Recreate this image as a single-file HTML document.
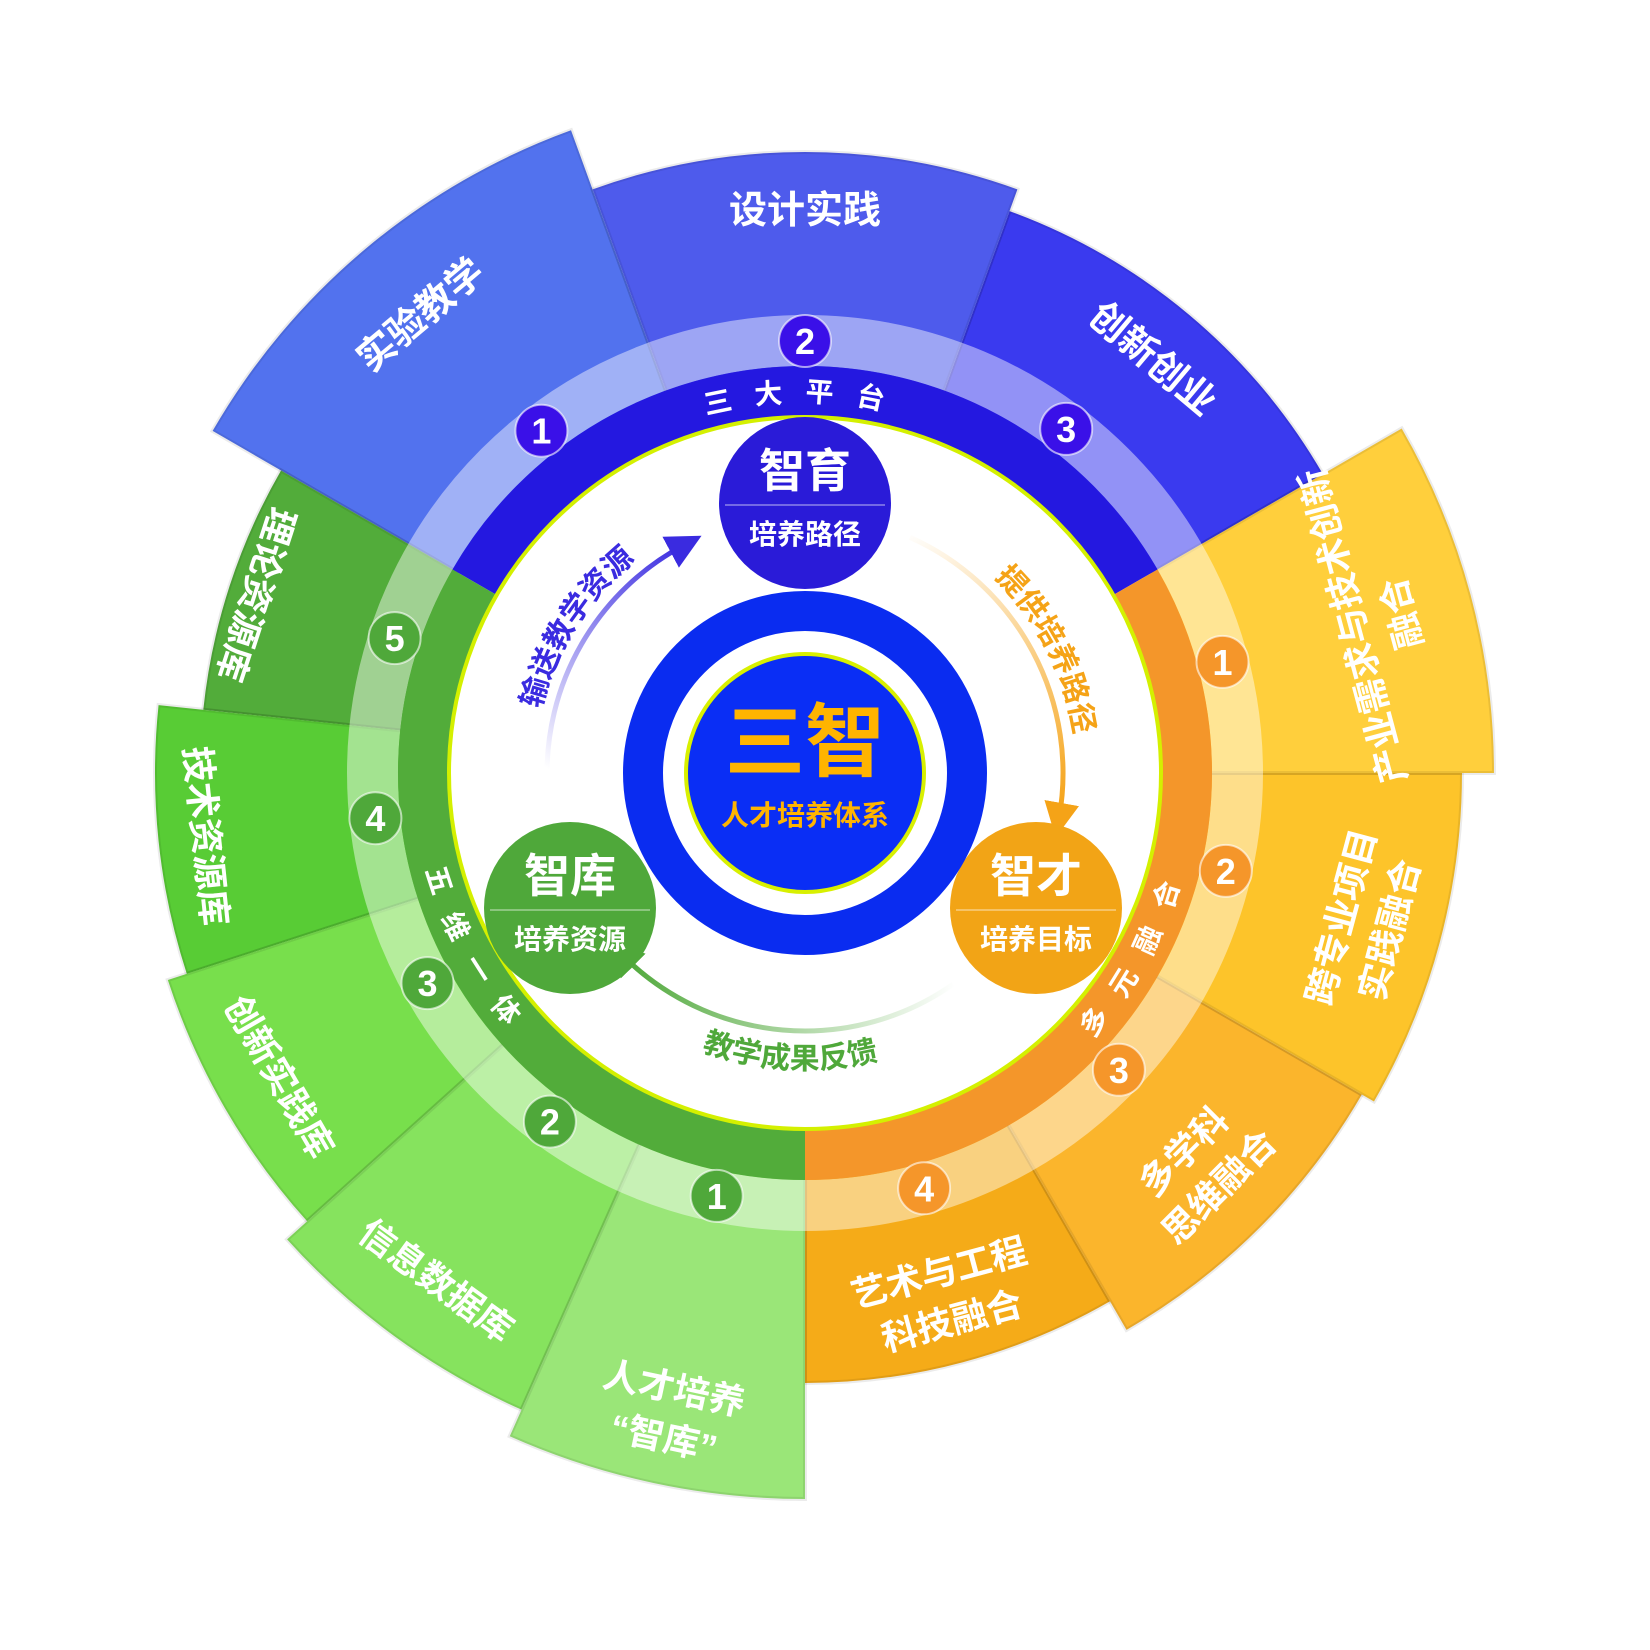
<!DOCTYPE html>
<html><head><meta charset="utf-8"><style>
html,body{margin:0;padding:0;background:#fff;}
svg{display:block;}
text{font-family:"Liberation Sans","Noto Sans CJK SC",sans-serif;font-weight:bold;}
</style></head><body>
<svg width="1650" height="1650" viewBox="0 0 1650 1650" xmlns="http://www.w3.org/2000/svg">
<defs>
<marker id="mb" markerWidth="7" markerHeight="7" refX="3" refY="3.5" orient="auto" markerUnits="strokeWidth"><path d="M0,0 L7,3.5 L0,7 z" fill="#3A2BE0"/></marker>
<marker id="mo" markerWidth="7" markerHeight="7" refX="3" refY="3.5" orient="auto" markerUnits="strokeWidth"><path d="M0,0 L7,3.5 L0,7 z" fill="#F5A317"/></marker>
<marker id="mg" markerWidth="7" markerHeight="7" refX="3" refY="3.5" orient="auto" markerUnits="strokeWidth"><path d="M0,0 L7,3.5 L0,7 z" fill="#4FA83A"/></marker>
<linearGradient id="gb" gradientUnits="userSpaceOnUse" x1="-250" y1="0" x2="-120" y2="-230"><stop offset="0" stop-color="#3A2BE0" stop-opacity="0"/><stop offset="1" stop-color="#3A2BE0"/></linearGradient>
<linearGradient id="go" gradientUnits="userSpaceOnUse" x1="100" y1="-240" x2="254" y2="40"><stop offset="0" stop-color="#F5A317" stop-opacity="0"/><stop offset="1" stop-color="#F5A317"/></linearGradient>
<linearGradient id="gg" gradientUnits="userSpaceOnUse" x1="150" y1="210" x2="-180" y2="180"><stop offset="0" stop-color="#4FA83A" stop-opacity="0"/><stop offset="1" stop-color="#4FA83A"/></linearGradient>
<path id="pTop" d="M-238.5,-284.2 A371,371 0 0 1 238.5,-284.2"/>
<path id="pRight" d="M133.7,367.4 A391,391 0 0 0 379.4,-94.6"/>
<path id="pLeft" d="M-381,-88 A391,391 0 0 0 -127.3,369.7"/>
<path id="a1" d="M-255.6,93 A272,272 0 0 1 -23.7,-271"/>
<path id="a2" d="M47.2,-267.9 A272,272 0 0 1 244.5,119.2"/>
<path id="a3" d="M-226.7,190.3 A296,296 0 0 0 205.6,212.9"/>
</defs>
<g transform="translate(805,773)">
<g stroke="rgba(0,0,0,0.08)" stroke-width="4">
<path transform="rotate(-40)" fill="#5272EE" d="M-233.9,-642.8 A684,684 0 0 1 233.9,-642.8 L136.8,-375.9 A400,400 0 0 0 -136.8,-375.9Z"/>
<path transform="rotate(40)" fill="#3A3AEF" d="M-204.5,-561.9 A598,598 0 0 1 204.5,-561.9 L136.8,-375.9 A400,400 0 0 0 -136.8,-375.9Z"/>
<path transform="rotate(0)" fill="#4E5BEC" d="M-212.4,-583.6 A621,621 0 0 1 212.4,-583.6 L136.8,-375.9 A400,400 0 0 0 -136.8,-375.9Z"/>
<path transform="rotate(165)" fill="#F5AB18" d="M-157.9,-589.2 A610,610 0 0 1 157.9,-589.2 L103.5,-386.4 A400,400 0 0 0 -103.5,-386.4Z"/>
<path transform="rotate(135)" fill="#FBB52C" d="M-166.4,-621.1 A643,643 0 0 1 166.4,-621.1 L103.5,-386.4 A400,400 0 0 0 -103.5,-386.4Z"/>
<path transform="rotate(105)" fill="#FDC42A" d="M-170,-634.6 A657,657 0 0 1 170,-634.6 L103.5,-386.4 A400,400 0 0 0 -103.5,-386.4Z"/>
<path transform="rotate(75)" fill="#FFCF3C" d="M-178.3,-665.5 A689,689 0 0 1 178.3,-665.5 L103.5,-386.4 A400,400 0 0 0 -103.5,-386.4Z"/>
<path transform="rotate(288)" fill="#52AC3A" d="M-125.8,-591.8 A605,605 0 0 1 125.8,-591.8 L83.2,-391.2 A400,400 0 0 0 -83.2,-391.2Z"/>
<path transform="rotate(264)" fill="#58CC35" d="M-135.1,-635.8 A650,650 0 0 1 135.1,-635.8 L83.2,-391.2 A400,400 0 0 0 -83.2,-391.2Z"/>
<path transform="rotate(240)" fill="#78DF4C" d="M-139.3,-655.3 A670,670 0 0 1 139.3,-655.3 L83.2,-391.2 A400,400 0 0 0 -83.2,-391.2Z"/>
<path transform="rotate(216)" fill="#86E35E" d="M-144.9,-681.7 A697,697 0 0 1 144.9,-681.7 L83.2,-391.2 A400,400 0 0 0 -83.2,-391.2Z"/>
<path transform="rotate(192)" fill="#9AE678" d="M-150.9,-710.1 A726,726 0 0 1 150.9,-710.1 L83.2,-391.2 A400,400 0 0 0 -83.2,-391.2Z"/>
</g>
<g fill="#fff" font-size="38" text-anchor="middle">
<text transform="rotate(-40)" x="0" y="-585">实验教学</text>
<text transform="rotate(0)" x="0" y="-550">设计实践</text>
<text transform="rotate(40)" x="0" y="-528">创新创业</text>
</g>
<g fill="#fff" font-size="36" text-anchor="middle">
<text transform="rotate(-105)" x="0" y="580">产业需求与技术创新</text>
<text transform="rotate(-105)" x="0" y="630">融合</text>
<text transform="rotate(-75)" x="0" y="568">跨专业项目</text>
<text transform="rotate(-75)" x="0" y="618">实践融合</text>
<text transform="rotate(-45)" x="0" y="548">多学科</text>
<text transform="rotate(-45)" x="0" y="598">思维融合</text>
<text transform="rotate(-15)" x="0" y="530">艺术与工程</text>
<text transform="rotate(-15)" x="0" y="580">科技融合</text>
<text transform="rotate(12)" x="0" y="642">人才培养</text>
<text transform="rotate(12)" x="0" y="692">“智库”</text>
<text transform="rotate(36)" x="0" y="640">信息数据库</text>
<text transform="rotate(60)" x="0" y="620">创新实践库</text>
<text transform="rotate(84)" x="0" y="615">技术资源库</text>
<text transform="rotate(108)" x="0" y="590">理论资源库</text>
</g>
<circle r="432.5" fill="none" stroke="rgba(255,255,255,0.45)" stroke-width="51"/>
<path d="M-330.4,-190.75 A381.5,381.5 0 0 1 330.4,-190.75" fill="none" stroke="#2418E0" stroke-width="51"/>
<path d="M330.4,-190.75 A381.5,381.5 0 0 1 0,381.5" fill="none" stroke="#F4962A" stroke-width="51"/>
<path d="M0,381.5 A381.5,381.5 0 0 1 -330.4,-190.75" fill="none" stroke="#52AC3A" stroke-width="51"/>
<circle r="356" fill="#fff" stroke="#D4F000" stroke-width="4"/>
<g fill="#fff" font-size="28">
<text><textPath href="#pTop" startOffset="50%" text-anchor="middle" letter-spacing="22">三大平台</textPath></text>
<text><textPath href="#pRight" startOffset="50%" text-anchor="middle" letter-spacing="22">多元融合</textPath></text>
<text><textPath href="#pLeft" startOffset="50%" text-anchor="middle" letter-spacing="22">五维一体</textPath></text>
</g>
<g stroke="rgba(255,255,255,0.6)" stroke-width="2">
<circle cx="-263.6" cy="-342.3" r="26" fill="#3A10E8"/><circle cx="0" cy="-432" r="26" fill="#3A10E8"/><circle cx="261.2" cy="-344.1" r="26" fill="#3A10E8"/>
<circle cx="417.5" cy="-111.1" r="26" fill="#F5962A"/><circle cx="420.8" cy="97.9" r="26" fill="#F5962A"/><circle cx="313.9" cy="296.8" r="26" fill="#F5962A"/><circle cx="119.1" cy="415.3" r="26" fill="#F5962A"/>
<circle cx="-88.3" cy="422.9" r="26" fill="#4FA83A"/><circle cx="-255.1" cy="348.6" r="26" fill="#4FA83A"/><circle cx="-377.5" cy="210.1" r="26" fill="#4FA83A"/><circle cx="-429.6" cy="45.2" r="26" fill="#4FA83A"/><circle cx="-410.4" cy="-134.9" r="26" fill="#4FA83A"/>
</g>
<g fill="#fff" font-size="36" text-anchor="middle">
<text x="-263.6" y="-329.3">1</text><text x="0" y="-419">2</text><text x="261.2" y="-331.1">3</text>
<text x="417.5" y="-98.1">1</text><text x="420.8" y="110.9">2</text><text x="313.9" y="309.8">3</text><text x="119.1" y="428.3">4</text>
<text x="-88.3" y="435.9">1</text><text x="-255.1" y="361.6">2</text><text x="-377.5" y="223.1">3</text><text x="-429.6" y="58.2">4</text><text x="-410.4" y="-121.9">5</text>
</g>
<path d="M-257.8,9 A258,258 0 0 1 -121.1,-227.8" fill="none" stroke="url(#gb)" stroke-width="5" marker-end="url(#mb)"/>
<path d="M104.9,-235.7 A258,258 0 0 1 254.1,44.8" fill="none" stroke="url(#go)" stroke-width="5" marker-end="url(#mo)"/>
<path d="M148,211.3 A258,258 0 0 1 -182.4,182.4" fill="none" stroke="url(#gg)" stroke-width="5" marker-end="url(#mg)"/>
<g font-size="30">
<text fill="#3A2BE0"><textPath href="#a1" startOffset="50%" text-anchor="middle">输送教学资源</textPath></text>
<text fill="#F5A317"><textPath href="#a2" startOffset="50%" text-anchor="middle">提供培养路径</textPath></text>
<text fill="#4FA83A"><textPath href="#a3" startOffset="50%" text-anchor="middle">教学成果反馈</textPath></text>
</g>
<circle cx="0" cy="-270" r="86" fill="#2A1BD8"/>
<line x1="-80" y1="-268" x2="80" y2="-268" stroke="rgba(255,255,255,0.35)" stroke-width="2"/>
<text x="0" y="-286" fill="#fff" font-size="46" text-anchor="middle">智育</text>
<text x="0" y="-229" fill="#fff" font-size="28" text-anchor="middle">培养路径</text>
<circle cx="-235" cy="135" r="86" fill="#4FA83A"/>
<line x1="-315" y1="137" x2="-155" y2="137" stroke="rgba(255,255,255,0.35)" stroke-width="2"/>
<text x="-235" y="119" fill="#fff" font-size="46" text-anchor="middle">智库</text>
<text x="-235" y="176" fill="#fff" font-size="28" text-anchor="middle">培养资源</text>
<circle cx="231" cy="135" r="86" fill="#F2A416"/>
<line x1="151" y1="137" x2="311" y2="137" stroke="rgba(255,255,255,0.35)" stroke-width="2"/>
<text x="231" y="119" fill="#fff" font-size="46" text-anchor="middle">智才</text>
<text x="231" y="176" fill="#fff" font-size="28" text-anchor="middle">培养目标</text>
<circle r="162" fill="none" stroke="#0A2CF0" stroke-width="40"/>
<circle r="119" fill="#0A2EF5" stroke="#D8F000" stroke-width="4"/>
<text x="0" y="-3" fill="#FFB400" font-size="80" text-anchor="middle">三智</text>
<text x="0" y="52" fill="#FFB400" font-size="28" text-anchor="middle">人才培养体系</text>
</g>
</svg>
</body></html>
